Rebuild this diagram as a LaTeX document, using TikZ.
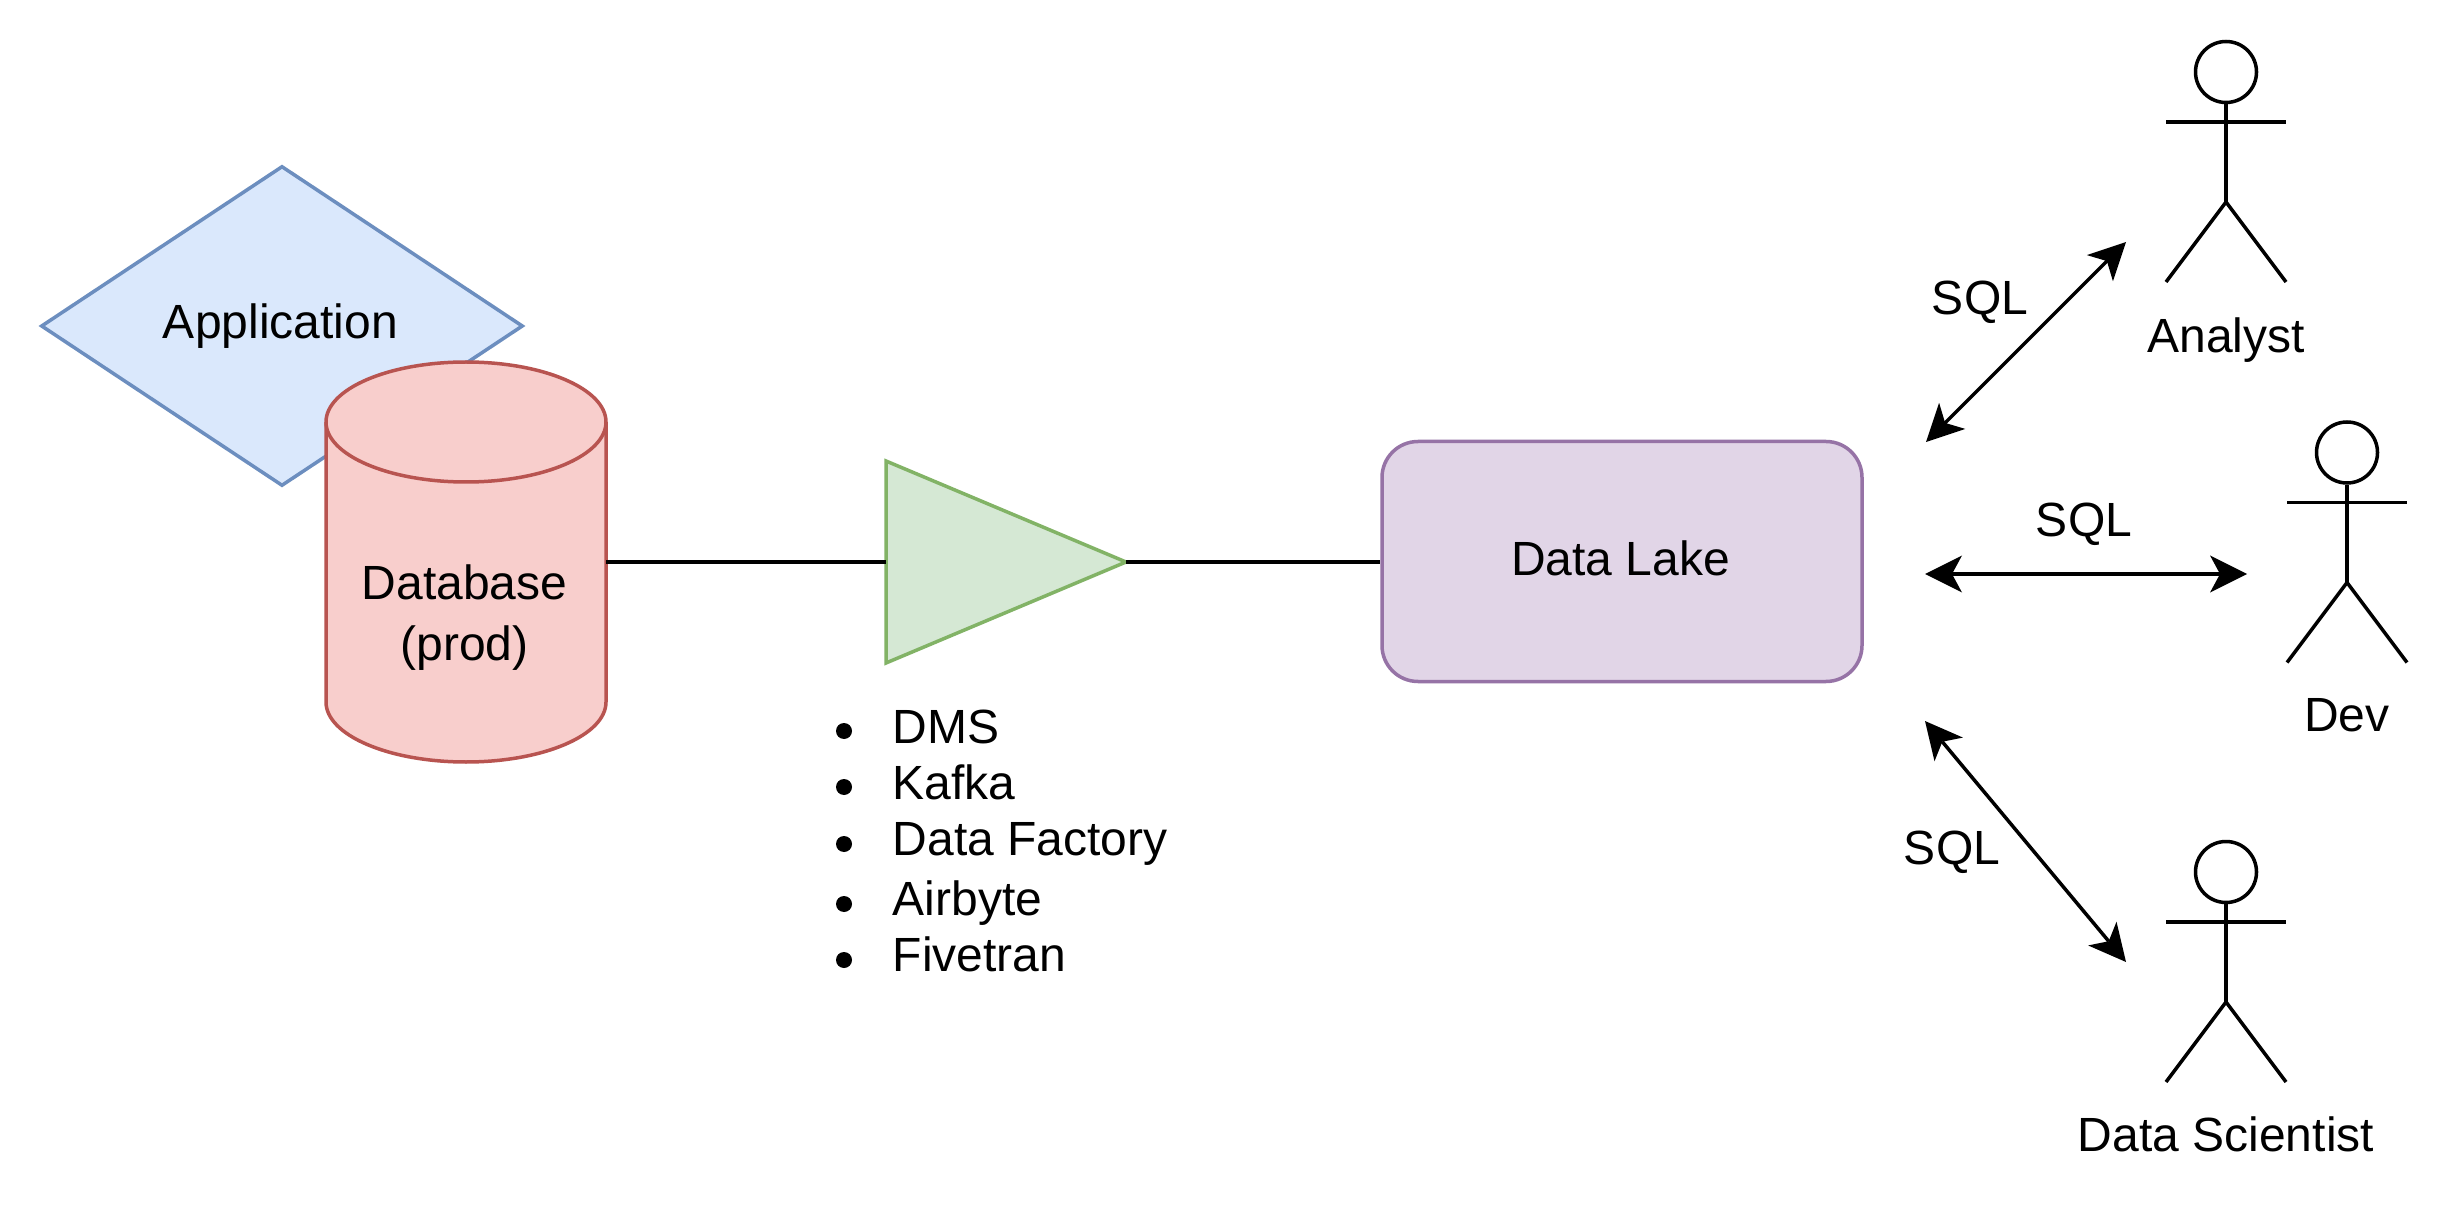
\documentclass[tikz,border=0pt]{standalone}
\usepackage{fontspec}
\setmainfont{Liberation Sans}
\usetikzlibrary{arrows.meta,shapes.geometric}
\definecolor{bluefill}{HTML}{DAE8FC}
\definecolor{bluedraw}{HTML}{6C8EBF}
\definecolor{redfill}{HTML}{F8CECC}
\definecolor{reddraw}{HTML}{B85450}
\definecolor{greenfill}{HTML}{D5E8D4}
\definecolor{greendraw}{HTML}{82B366}
\definecolor{purplefill}{HTML}{E1D5E7}
\definecolor{purpledraw}{HTML}{9673A6}
\tikzset{
  every node/.style={font=\fontsize{24}{28}\selectfont, text=black},
  thickline/.style={line width=1.75pt, draw=black},
  shapeline/.style={line width=1.75pt},
  appshape/.style={shape=diamond, shapeline, draw=bluedraw, fill=bluefill, aspect=1.506, minimum width=241pt, minimum height=160pt, inner sep=0pt},
  dbshape/.style={shape=rectangle, minimum width=140pt, minimum height=200pt, inner sep=0pt, outer sep=0pt},
  dbline/.style={shapeline, draw=reddraw, fill=redfill},
  etlshape/.style={shape=isosceles triangle, shapeline, draw=greendraw, fill=greenfill, isosceles triangle stretches, minimum width=101pt, minimum height=120pt, inner sep=0pt, outer sep=0pt},
  lakeshape/.style={shape=rectangle, shapeline, draw=purpledraw, fill=purplefill, rounded corners=18pt, minimum width=240pt, minimum height=120pt, text depth=3pt},
  label/.style={anchor=base, inner sep=0pt},
  listlabel/.style={anchor=base west, inner sep=0pt},
  bulletdot/.style={shape=circle, fill=black, minimum size=8pt, inner sep=0pt},
  headshape/.style={shape=circle, thickline, minimum size=30.5pt, inner sep=0pt},
  sqlarrow/.style={thickline, {Stealth[length=18.5pt,width=18.5pt,inset=5pt,line width=0pt]}-{Stealth[length=18.5pt,width=18.5pt,inset=5pt,line width=0pt]}}
}
\newcommand{\actorfig}[5]{% name, x, head cy, label, label baseline
  \node[headshape] (#1) at (#2,#3) {};
  \coordinate (#1hip) at (#2,#3+130);
  \coordinate (#1shoulder) at (#2,#3+50);
  \coordinate (#1la) at (#2-60,#3+50);
  \coordinate (#1ra) at (#2+60,#3+50);
  \coordinate (#1ll) at (#2-60,#3+210);
  \coordinate (#1rl) at (#2+60,#3+210);
  \draw[thickline] (#1.south) -- (#1hip);
  \draw[thickline] (#1la) -- (#1ra);
  \draw[thickline] (#1ll) -- (#1hip) -- (#1rl);
  \node[label] (#1text) at (#2,#5) {#4};
}
\begin{document}
\begin{tikzpicture}[x=0.5pt,y=-0.5pt]
\useasboundingbox (0,0) rectangle (2448,1208);
\fill[white] (0,0) rectangle (2448,1208);

\node[appshape] (app) at (282,326) {Application\kern1.6pt};
\node[dbshape] (db) at (466,562) {};
\path[dbline] (326,422) -- (326,702) arc[start angle=180, end angle=360, x radius=70pt, y radius=30pt] -- (606,422) arc[start angle=0, end angle=180, x radius=70pt, y radius=30pt] -- cycle;
\path[dbline, fill=none] (326,422) arc[start angle=180, end angle=360, x radius=70pt, y radius=30pt];
\node[label] (dbtext1) at (464.5,599) {Database};
\node[label] (dbtext2) at (464.5,661) {(prod)};
\node[etlshape, anchor=lower side] (etl) at (886,562) {};
\node[lakeshape] (lake) at (1622,561.5) {Data Lake\kern1.6pt};

\draw[thickline] (db.east) -- (etl.lower side);
\draw[thickline] (etl.apex) -- (etl.apex -| lake.west);

\foreach \nm/\by/\bl/\txt in {a/731/743/DMS, b/787/799/Kafka, c/844/855/Data Factory, d/904/915/Airbyte, e/960/971/Fivetran}{
  \node[bulletdot] (dot\nm) at (844,\by) {};
  \node[listlabel] (item\nm) at (892.5,\bl) {\txt};
}

\actorfig{analyst}{2226}{72}{Analyst}{352.5}
\actorfig{dev}{2347}{452.5}{Dev}{731.5}
\actorfig{sci}{2226}{872}{Data Scientist}{1151}

\coordinate (a1) at (1926,442);
\coordinate (a2) at (2126,242);
\coordinate (b1) at (1925,574);
\coordinate (b2) at (2247,574);
\coordinate (c1) at (1925,721);
\coordinate (c2) at (2126,962);
\draw[sqlarrow] (a1) -- (a2);
\draw[sqlarrow] (b1) -- (b2);
\draw[sqlarrow] (c1) -- (c2);
\node[label] (sql1) at (1980,315) {SQL};
\node[label] (sql2) at (2084,537) {SQL};
\node[label] (sql3) at (1952,864) {SQL};
\end{tikzpicture}
\end{document}
